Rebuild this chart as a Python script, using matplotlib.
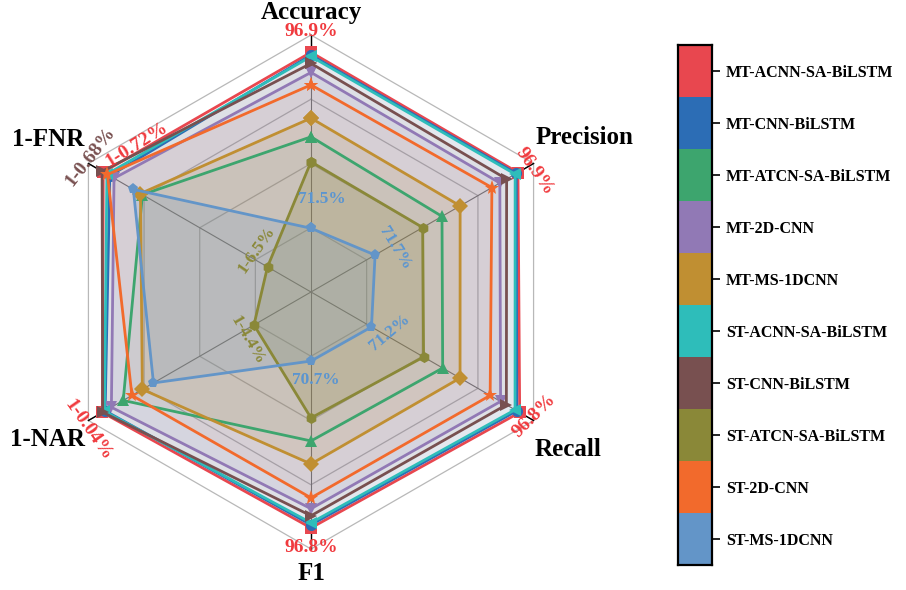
import numpy as np
import matplotlib
matplotlib.use("Agg")
from matplotlib import pyplot as plt
from matplotlib.colors import to_rgb

plt.rcParams['font.family'] = ['Liberation Serif', 'DejaVu Serif']

models = ['MT-ACNN-SA-BiLSTM', 'MT-CNN-BiLSTM', 'MT-ATCN-SA-BiLSTM', 'MT-2D-CNN', 'MT-MS-1DCNN',
          'ST-ACNN-SA-BiLSTM', 'ST-CNN-BiLSTM', 'ST-ATCN-SA-BiLSTM', 'ST-2D-CNN', 'ST-MS-1DCNN']
colors = ['#E8474F', '#2C6DB5', '#3DA56E', '#9179B5', '#C08F32',
          '#2EBDBA', '#785050', '#8A8838', '#F26A2C', '#6395C8']
markers = ['s', 'o', '^', 'v', 'D', '<', '>', 'h', '*', 'p']
# fill transparency per series
fill_alpha = [0.05, 0.07, 0.06, 0.10, 0.14, 0.05, 0.05, 0.20, 0.05, 0.16]

axis_names = ['Accuracy', 'Precision', 'Recall', 'F1', '1-NAR', '1-FNR']

# metrics in %, NAR / FNR are error rates (plotted as 100 - rate)
accuracy = [96.9, 96.5, 84.7, 94.0, 87.4, 96.3, 95.3, 81.1, 92.2, 71.5]
precision = [96.9, 96.6, 83.5, 93.7, 86.7, 96.4, 94.9, 80.1, 92.3, 71.7]
recall = [96.8, 96.3, 83.5, 93.5, 86.5, 96.0, 94.5, 80.2, 91.7, 71.2]
f1 = [96.8, 96.3, 83.2, 93.8, 86.8, 96.0, 94.9, 79.6, 92.1, 70.7]
nar = [0.04, 0.12, 0.64, 0.30, 1.19, 0.10, 0.05, 4.4, 0.89, 1.51]
fnr = [0.72, 0.95, 2.10, 1.10, 2.03, 0.85, 0.68, 6.5, 0.87, 1.78]

# per-axis value range (centre -> outer ring)
axis_lo = [62.3, 60.4, 60.75, 59.9, 93.96, 91.97]
axis_hi = [99.4, 99.65, 99.2, 100.1, 100.36, 99.8]

angles = np.deg2rad([90, 30, -30, -90, -150, 150])

values = np.array([accuracy, precision, recall, f1,
                   100 - np.array(nar), 100 - np.array(fnr)]).T
radii = (values - np.array(axis_lo)) / (np.array(axis_hi) - np.array(axis_lo))

fig = plt.figure(figsize=(9.06, 5.90), dpi=100)
ax = fig.add_axes([0, 0, 1, 1])
ax.set_xlim(-311 / 257, (906 - 311) / 257)
ax.set_ylim(-(590 - 292) / 257, 292 / 257)
ax.set_aspect('equal')
ax.axis('off')

# grid
ca, sa = np.cos(angles), np.sin(angles)
for lvl in [0.25, 0.5, 0.75, 1.0]:
    ax.plot(np.append(ca, ca[0]) * lvl, np.append(sa, sa[0]) * lvl,
            color='#b8b8b8', lw=0.9, zorder=1)
for c, s in zip(ca, sa):
    ax.plot([0, c], [0, s], color='#707070', lw=0.8, zorder=1)
    ax.plot([0.935 * c, c], [0.935 * s, s], color='black', lw=1.0, zorder=1)

# series, drawn in legend order
for i in range(len(models)):
    px = radii[i] * ca
    py = radii[i] * sa
    x = np.append(px, px[0])
    y = np.append(py, py[0])
    ax.fill(x, y, color=colors[i], alpha=fill_alpha[i], lw=0, zorder=2)
    ms = 11 if markers[i] == '*' else 8
    ax.plot(x, y, color=colors[i], lw=2.0, marker=markers[i], ms=ms,
            markeredgewidth=0, zorder=3 + i * 0.01)

# axis names
name_pos = [(311, 12), (585, 138), (568, 450), (311, 573), (48, 440), (48, 140)]
for name, (px, py) in zip(axis_names, name_pos):
    ax.text((px - 311) / 257, (292 - py) / 257, name, ha='center', va='center',
            fontsize=18, fontweight='bold', color='black')

def px_text(px, py, s, color, rot, size):
    ax.text((px - 311) / 257, (292 - py) / 257, s, ha='center', va='center',
            rotation=rot, rotation_mode='anchor', fontsize=size,
            fontweight='bold', color=color, zorder=6)

red = '#F03A3E'
px_text(311, 32, '%.1f%%' % accuracy[0], red, 0, 14)
px_text(535, 171, '%.1f%%' % precision[0], red, -55, 14)
px_text(534, 416, '%.1f%%' % recall[0], red, 45, 14)
px_text(311, 548, '%.1f%%' % f1[0], red, 0, 14)
px_text(88, 430, '1-%.2f%%' % nar[0], red, -55, 14)
px_text(137, 145, '1-%.2f%%' % fnr[0], red, 32, 14)
px_text(90, 157, '1-%.2f%%' % fnr[6], colors[6], 52, 14)

blue = '#5B95D0'
px_text(322, 199, '%.1f%%' % accuracy[9], blue, 0, 12.5)
px_text(395, 248, '%.1f%%' % precision[9], blue, -58, 12.5)
px_text(390, 333, '%.1f%%' % recall[9], blue, 40, 12.5)
px_text(316, 380, '%.1f%%' % f1[9], blue, 0, 12.5)

olive = colors[7]
px_text(257, 250, '1-%.1f%%' % fnr[7], olive, 55, 12.5)
px_text(247, 340, '1-%.1f%%' % nar[7], olive, -60, 12.5)

# legend as a stacked colour strip
lax = fig.add_axes([678 / 906, 1 - 565 / 590, 34 / 906, 520 / 590])
strip = np.array([[to_rgb(c)] for c in colors])
lax.imshow(strip, aspect='auto', extent=(0, 1, len(models), 0), interpolation='nearest')
lax.set_xlim(0, 1)
lax.set_ylim(len(models), 0)
lax.set_xticks([])
lax.yaxis.tick_right()
lax.set_yticks(np.arange(len(models)) + 0.5)
lax.set_yticklabels(models, fontsize=11.5, fontweight='bold')
lax.tick_params(axis='y', length=6, width=1.2, pad=4)
for sp in lax.spines.values():
    sp.set_linewidth(1.6)

fig.savefig('out.png', dpi=100)
